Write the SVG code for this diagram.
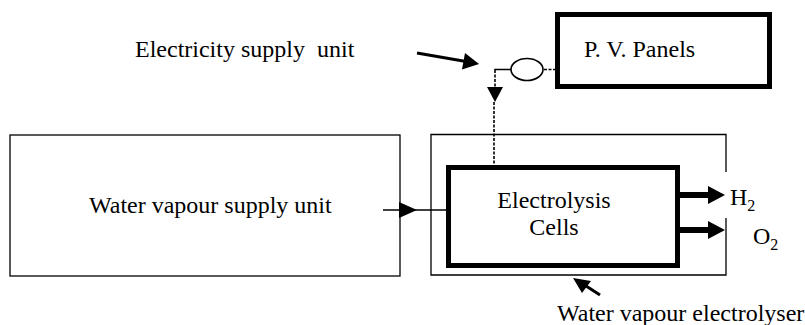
<svg xmlns="http://www.w3.org/2000/svg" width="805" height="325" viewBox="0 0 805 325">
<defs>
<style>
.thin{fill:none;stroke:#000;stroke-width:1.3}
.thick{fill:none;stroke:#000;stroke-width:5}
.dash{fill:none;stroke:#000;stroke-width:1.6;stroke-dasharray:3 1.5}
.line{fill:none;stroke:#000;stroke-width:1.6}
.bold{fill:none;stroke:#000;stroke-width:3}
.fat{fill:none;stroke:#000;stroke-width:6}
.head{fill:#000;stroke:none}
</style>
</defs>
<rect width="805" height="325" fill="#fff"/>
<g id="water-vapour-supply-unit">
<rect class="thin" x="10" y="135" width="390" height="141"/>
<text x="89" y="213" font-family="Liberation Serif" font-size="24">Water vapour supply unit</text>
</g>
<g id="water-vapour-electrolyser">
<path class="thin" d="M726 172 V134.5 H431 V275 H726 V218"/>
<text x="557" y="321" font-family="Liberation Serif" font-size="24">Water vapour electrolyser</text>
</g>
<g id="electrolysis-cells">
<rect class="thick" x="448.5" y="167.5" width="229" height="98"/>
<text x="554" y="208" font-family="Liberation Serif" font-size="24" text-anchor="middle">Electrolysis</text>
<text x="554" y="235" font-family="Liberation Serif" font-size="24" text-anchor="middle">Cells</text>
</g>
<g id="pv-panels">
<rect class="thick" x="557.5" y="14.5" width="212" height="72"/>
<text x="584" y="57" font-family="Liberation Serif" font-size="24">P. V. Panels</text>
</g>
<g id="switch">
<ellipse class="line" cx="527" cy="69.5" rx="16" ry="11"/>
</g>
<g id="electricity-supply-unit-label">
<text x="135" y="57" font-family="Liberation Serif" font-size="24" xml:space="preserve">Electricity supply  unit</text>
</g>
<g id="h2-label">
<text x="730" y="205" font-family="Liberation Serif" font-size="24">H<tspan font-size="16" dy="6">2</tspan></text>
</g>
<g id="o2-label">
<text x="753" y="244" font-family="Liberation Serif" font-size="24">O<tspan font-size="16" dy="6">2</tspan></text>
</g>
<g id="connectors">
<line class="line" x1="383" y1="210" x2="446" y2="210"/>
<polygon class="head" points="399,202 417,210 399,218"/>
<line class="fat" x1="680" y1="195" x2="710" y2="195"/>
<polygon class="head" points="708,186 725,195 708,204"/>
<line class="fat" x1="680" y1="230" x2="710" y2="230"/>
<polygon class="head" points="708,221 725,230 708,239"/>
<line class="bold" x1="417" y1="53" x2="466" y2="61.5"/>
<polygon class="head" points="479,64 462,69.5 465,53"/>
<line class="bold" x1="600" y1="295" x2="583" y2="284"/>
<polygon class="head" points="573,278 591,281 582,293"/>
<polyline class="line" points="511,69.5 495,69.5 495,70"/>
<line class="dash" x1="495" y1="70" x2="495" y2="88"/>
<polygon class="head" points="487,87 503,87 495,102"/>
<line class="dash" x1="494" y1="102" x2="494" y2="165"/>
<line class="dash" x1="544" y1="69.5" x2="555" y2="69.5"/>
</g>
</svg>
